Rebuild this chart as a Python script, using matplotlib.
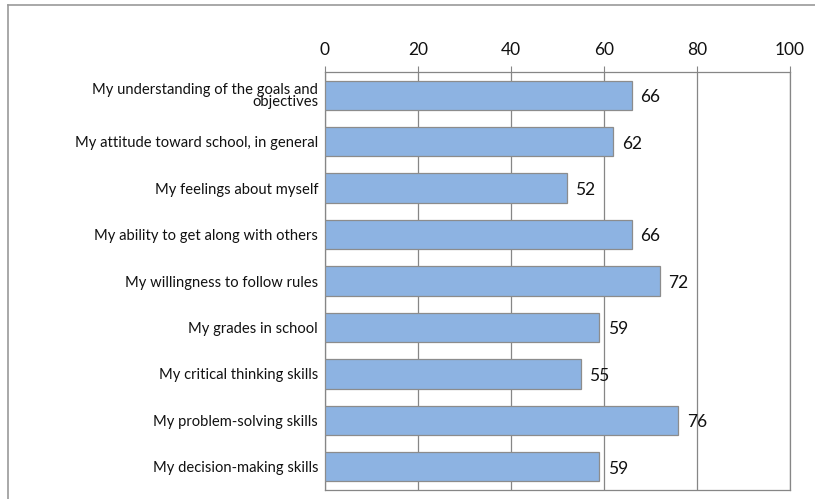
import matplotlib
matplotlib.use("Agg")
import matplotlib.pyplot as plt
from matplotlib.lines import Line2D

categories = [
    "My understanding of the goals and\nobjectives",
    "My attitude toward school, in general",
    "My feelings about myself",
    "My ability to get along with others",
    "My willingness to follow rules",
    "My grades in school",
    "My critical thinking skills",
    "My problem-solving skills",
    "My decision-making skills",
]
values = [66, 62, 52, 66, 72, 59, 55, 76, 59]
xticks = [0, 20, 40, 60, 80, 100]

plt.rcParams['font.family'] = ['Lato', 'DejaVu Sans']

fig = plt.figure(figsize=(8.15, 4.99), dpi=100)
ax = fig.add_axes([325/815, 1 - 490/499, (790-325)/815, (490-72)/499])

grid_c = '#868686'
y = list(range(len(categories)))
ax.barh(y, values, height=0.63, color='#8DB3E2', edgecolor='#8C8C8C',
        linewidth=0.9, zorder=3)
for yi, v in zip(y, values):
    ax.text(v + 1.8, yi + 0.04, f"{v}", va='center', ha='left',
            fontsize=12.5, color='#111111', zorder=4)

ax.set_xlim(0, 100)
ax.set_ylim(8.5, -0.5)
ax.set_xticks(xticks)
ax.xaxis.tick_top()
ax.tick_params(axis='x', direction='out', length=4, color=grid_c,
               labelsize=12.5, pad=6, labelcolor='#111111')
ax.set_yticks(y)
ax.set_yticklabels(categories, fontsize=10.6, color='#111111',
                   linespacing=0.8)
ax.tick_params(axis='y', length=0, pad=5)
ax.grid(axis='x', color=grid_c, linewidth=0.9, zorder=0)
ax.set_axisbelow(True)
for s in ax.spines.values():
    s.set_color(grid_c)
    s.set_linewidth(0.9)

# outer chart frame (partially visible)
fig.add_artist(Line2D([8/815, 8/815], [0, 1 - 5/499], transform=fig.transFigure,
                      color='#9a9a9a', linewidth=1.2))
fig.add_artist(Line2D([8/815, 1], [1 - 5/499, 1 - 5/499], transform=fig.transFigure,
                      color='#9a9a9a', linewidth=1.2))

fig.savefig("out.png", dpi=100)
